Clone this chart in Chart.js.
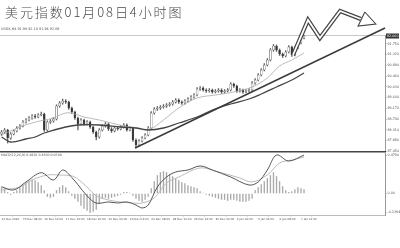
<!DOCTYPE html>
<html>
<head>
<meta charset="utf-8">
<script src="https://cdn.jsdelivr.net/npm/chart.js@4.4.0/dist/chart.umd.min.js"></script>
<style>
  html, body { margin: 0; padding: 0; background: #fff; }
  body { width: 400px; height: 248px; position: relative; overflow: hidden; font-family: "DejaVu Sans", sans-serif; }
  canvas { position: absolute; left: 0; }
  #priceChart { top: 0; }
  #macdChart { top: 146px; }
  .txt { position: absolute; white-space: nowrap; color: #555; z-index: 2; }
  #title { left: 5px; top: 4px; font-family: "Noto Sans CJK SC", sans-serif; font-weight: 300; font-size: 13px; line-height: 16px; letter-spacing: 1.9px; color: #4a4a4a; }
  #legend { left: 1px; top: 27px; font-size: 3.4px; line-height: 4px; }
  #macdLegend { left: 1px; top: 153px; font-size: 3.2px; line-height: 4px; }
</style>
</head>
<body>
<div id="title" class="txt">美元指数01月08日4小时图</div>
<div id="legend" class="txt"></div>
<div id="macdLegend" class="txt"></div>
<canvas id="priceChart" width="400" height="155"></canvas>
<canvas id="macdChart" width="400" height="102"></canvas>
<script>
// H4 candles, one row of ten per line
const opens = [
  88.14, 88.22, 88.30, 87.98, 88.14, 88.26, 88.38, 88.46, 88.62, 88.70,
  88.78, 88.86, 88.82, 88.90, 88.94, 88.30, 88.62, 88.66, 88.74, 89.26,
  89.38, 89.46, 89.42, 89.18, 89.02, 88.78, 88.54, 88.70, 88.54, 88.62,
  88.42, 88.22, 88.02, 88.30, 88.46, 88.54, 88.34, 88.26, 88.38, 88.34,
  88.42, 88.50, 88.30, 88.38, 87.90, 87.70, 87.86, 87.98, 88.10, 88.38,
  88.98, 89.14, 89.18, 89.22, 89.26, 89.30, 89.34, 89.42, 89.50, 89.42,
  89.38, 89.46, 89.54, 89.62, 89.70, 89.94, 89.98, 89.90, 89.86, 89.90,
  89.82, 89.86, 89.90, 89.82, 89.86, 89.90, 90.14, 90.06, 89.86, 89.90,
  89.82, 89.86, 89.90, 90.18, 90.30, 90.50, 90.70, 90.90, 91.10, 91.50,
  91.66, 91.50, 91.34, 91.26, 91.42, 91.62, 91.30, 91.58, 91.78, 91.98
];
const highs = [
  88.28, 88.36, 88.33, 88.20, 88.31, 88.44, 88.52, 88.68, 88.76, 88.84,
  88.92, 88.93, 88.96, 89.02, 88.98, 88.67, 88.72, 88.80, 89.31, 89.44,
  89.54, 89.52, 89.46, 89.22, 89.06, 88.82, 88.76, 88.74, 88.68, 88.66,
  88.46, 88.26, 88.36, 88.52, 88.60, 88.58, 88.40, 88.44, 88.44, 88.48,
  88.56, 88.55, 88.44, 88.42, 87.95, 87.92, 88.04, 88.16, 88.44, 89.04,
  89.20, 89.24, 89.28, 89.32, 89.36, 89.40, 89.48, 89.56, 89.55, 89.47,
  89.52, 89.60, 89.68, 89.76, 90.00, 90.04, 90.03, 89.95, 89.96, 89.94,
  89.92, 89.96, 89.95, 89.92, 89.96, 90.20, 90.18, 90.10, 89.96, 89.94,
  89.92, 89.96, 90.24, 90.36, 90.56, 90.76, 90.96, 91.16, 91.56, 91.72,
  91.70, 91.54, 91.38, 91.48, 91.68, 91.66, 91.64, 91.84, 92.04, 92.10
];
const lows = [
  88.08, 88.16, 87.78, 87.92, 88.10, 88.22, 88.33, 88.42, 88.57, 88.66,
  88.73, 88.76, 88.78, 88.86, 88.24, 88.26, 88.56, 88.61, 88.70, 89.21,
  89.33, 89.36, 89.12, 88.96, 88.72, 88.30, 88.50, 88.48, 88.49, 88.36,
  88.16, 87.90, 87.97, 88.26, 88.41, 88.28, 88.20, 88.22, 88.29, 88.30,
  88.37, 88.25, 88.26, 87.84, 87.58, 87.65, 87.82, 87.94, 88.06, 88.34,
  88.93, 89.08, 89.12, 89.17, 89.20, 89.25, 89.29, 89.37, 89.36, 89.32,
  89.33, 89.41, 89.49, 89.57, 89.66, 89.88, 89.85, 89.80, 89.81, 89.77,
  89.78, 89.81, 89.76, 89.77, 89.82, 89.86, 90.00, 89.80, 89.81, 89.76,
  89.78, 89.81, 89.86, 90.13, 90.26, 90.46, 90.66, 90.86, 91.06, 91.45,
  91.44, 91.28, 91.20, 91.22, 91.38, 91.24, 91.26, 91.54, 91.74, 91.94
];
const closes = [
  88.22, 88.30, 87.98, 88.14, 88.26, 88.38, 88.46, 88.62, 88.70, 88.78,
  88.86, 88.82, 88.90, 88.94, 88.30, 88.62, 88.66, 88.74, 89.26, 89.38,
  89.46, 89.42, 89.18, 89.02, 88.78, 88.54, 88.70, 88.54, 88.62, 88.42,
  88.22, 88.02, 88.30, 88.46, 88.54, 88.34, 88.26, 88.38, 88.34, 88.42,
  88.50, 88.30, 88.38, 87.90, 87.70, 87.86, 87.98, 88.10, 88.38, 88.98,
  89.14, 89.18, 89.22, 89.26, 89.30, 89.34, 89.42, 89.50, 89.42, 89.38,
  89.46, 89.54, 89.62, 89.70, 89.94, 89.98, 89.90, 89.86, 89.90, 89.82,
  89.86, 89.90, 89.82, 89.86, 89.90, 90.14, 90.06, 89.86, 89.90, 89.82,
  89.86, 89.90, 90.18, 90.30, 90.50, 90.70, 90.90, 91.10, 91.50, 91.66,
  91.50, 91.34, 91.26, 91.42, 91.62, 91.30, 91.58, 91.78, 91.98, 92.06
];

// moving averages (read at a few bars)
const maFastX = [0, 6, 10, 14, 17, 21, 24, 27, 32, 36, 40, 44, 48, 53, 58, 64, 70, 76, 82, 87, 91, 95, 99];
const maFastY = [88.10, 88.42, 88.58, 88.70, 88.78, 88.98, 88.94, 88.82, 88.70, 88.58, 88.46, 88.38, 88.30, 88.70, 89.18, 89.58, 89.70, 89.82, 90.02, 90.38, 90.86, 91.10, 91.38];
const maSlowX = [0, 3, 8, 11, 14, 21, 25, 32, 39, 44, 48, 53, 58, 64, 69, 75, 81, 85, 90, 95, 99];
const maSlowY = [88.02, 87.82, 87.94, 88.02, 88.18, 88.42, 88.50, 88.50, 88.42, 88.38, 88.30, 88.38, 88.58, 88.82, 89.10, 89.34, 89.54, 89.74, 90.02, 90.30, 90.58];

// hand drawn trend line and forecast arrow
const trendX = [43.7, 125.5];
const trendY = [87.58, 92.38];
const arrowX = [95.4, 100.3, 104.2, 110.8, 117.6];
const arrowY = [91.30, 92.70, 91.98, 93.06, 92.74];
const headX = [118.9, 122.5, 116.7, 118.9];
const headY = [93.02, 92.54, 92.46, 93.02];

const priceTicks = [91.75, 91.32, 90.89, 90.46, 90.03, 89.60, 89.17, 88.74, 88.31, 87.88, 87.45];

// MACD panel
const hist = [
  0.075, 0.063, 0.013, -0.013, 0.013, 0.038, 0.075, 0.113, 0.138, 0.163,
  0.175, 0.163, 0.138, 0.100, 0.038, -0.038, -0.050, -0.038, 0.038, 0.075,
  0.100, 0.075, 0.025, -0.025, -0.063, -0.100, -0.150, -0.188, -0.213, -0.239,
  -0.225, -0.200, -0.125, -0.063, -0.050, -0.063, -0.050, -0.038, -0.025, -0.013,
  0.013, 0.013, 0.006, -0.025, -0.063, -0.088, -0.100, -0.075, -0.038, 0.063,
  0.150, 0.225, 0.263, 0.275, 0.263, 0.238, 0.213, 0.188, 0.163, 0.138,
  0.125, 0.100, 0.088, 0.075, 0.063, 0.025, 0.006, -0.013, -0.025, -0.038,
  -0.050, -0.063, -0.075, -0.075, -0.088, -0.075, -0.075, -0.088, -0.100, -0.100,
  -0.100, -0.088, -0.063, 0.038, 0.075, 0.113, 0.150, 0.188, 0.225, 0.263,
  0.213, 0.150, 0.088, 0.038, 0.013, 0.025, 0.050, 0.075, 0.063, 0.050
];
const difX = [0, 4, 8, 13, 17, 20, 23, 25, 28, 31, 35, 38, 41, 44, 46, 48, 51, 54, 57, 61, 65, 69, 75, 81, 84, 87, 90, 94, 99];
const difY = [0.085, 0.044, 0.144, 0.260, 0.169, 0.294, 0.200, 0.110, -0.030, -0.120, -0.106, -0.119, -0.106, -0.144, -0.181, -0.144, 0.081, 0.206, 0.269, 0.294, 0.344, 0.294, 0.206, 0.106, 0.144, 0.294, 0.481, 0.406, 0.481];
const deaX = [0, 6, 10, 15, 19, 23, 25, 28, 31, 35, 39, 43, 46, 50, 54, 58, 65, 71, 78, 82, 87, 91, 95, 99];
const deaY = [0.044, 0.081, 0.169, 0.231, 0.231, 0.220, 0.180, 0.080, -0.030, -0.081, -0.106, -0.119, -0.119, -0.056, 0.131, 0.206, 0.319, 0.269, 0.194, 0.144, 0.231, 0.381, 0.419, 0.456];
const macdTicks = [0.479, 0, -0.2394];
const macdTickLabels = ['0.4790', '0.00', '-0.2394'];

const timeTicks = [0, 7, 14, 21, 28, 35, 42, 49, 56, 63, 70, 77, 84, 91, 98];
const timeLabels = ['14 Dec 2020', '15 Dec 08:00', '16 Dec 12:00', '17 Dec 16:00', '18 Dec 20:00',
  '22 Dec 00:00', '23 Dec 04:00', '24 Dec 08:00', '28 Dec 12:00', '29 Dec 16:00',
  '30 Dec 20:00', '4 Jan 00:00', '5 Jan 04:00', '6 Jan 08:00', '7 Jan 12:00'];

Chart.defaults.font.family = '"DejaVu Sans", sans-serif';
Chart.defaults.animation = false;

const last = closes.length - 1;
document.getElementById('legend').textContent =
  `USDX,H4  ${opens[last].toFixed(2)} ${highs[last].toFixed(2)} ${lows[last].toFixed(2)} ${closes[last].toFixed(2)}`;
document.getElementById('macdLegend').textContent =
  `MACD(12,26,9) ${difY[difY.length - 1].toFixed(4)} ${deaY[deaY.length - 1].toFixed(4)} ${hist[hist.length - 1].toFixed(4)}`;

const pts = (xs, ys) => xs.map((x, i) => ({ x: x, y: ys[i] }));
const xMin = -0.5, xMax = 125.5;

// box with the last price on the right axis
const lastPriceBox = {
    id: 'lastPriceBox',
    afterDraw(chart) {
        const y = chart.scales.y.getPixelForValue(closes[last]);
        const left = chart.chartArea.right + 1;
        const ctx = chart.ctx;
        ctx.save();
        ctx.fillStyle = '#333';
        ctx.fillRect(left, y - 2.5, 13, 5);
        ctx.fillStyle = '#fff';
        ctx.font = '3.3px "DejaVu Sans"';
        ctx.textBaseline = 'middle';
        ctx.fillText(closes[last].toFixed(3), left + 1, y);
        ctx.restore();
    }
};

new Chart(document.getElementById('priceChart'), {
    type: 'bar',
    data: {
        datasets: [
            {
                type: 'line', data: pts(headX, headY), borderColor: '#444', borderWidth: 1.1,
                backgroundColor: '#fff', fill: 'shape', pointRadius: 0, clip: false, order: 0
            },
            {
                type: 'line', data: pts(arrowX, arrowY), borderColor: '#fff', borderWidth: 1.8,
                pointRadius: 0, clip: false, borderJoinStyle: 'miter', order: 1
            },
            {
                type: 'line', data: pts(arrowX, arrowY), borderColor: '#444', borderWidth: 4.2,
                pointRadius: 0, clip: false, borderJoinStyle: 'miter', order: 2
            },
            {
                type: 'line', data: pts(trendX, trendY), borderColor: '#3a3a3a', borderWidth: 1.4,
                pointRadius: 0, clip: false, order: 3
            },
            {
                type: 'line', data: pts(maSlowX, maSlowY), borderColor: '#444', borderWidth: 1.3,
                pointRadius: 0, tension: 0.35, order: 4
            },
            {
                type: 'line', data: pts(maFastX, maFastY), borderColor: '#aaa', borderWidth: 0.8,
                pointRadius: 0, tension: 0.35, order: 5
            },
            {
                data: closes.map((c, i) => ({ x: i, y: [opens[i], c] })),
                backgroundColor: closes.map((c, i) => c >= opens[i] ? '#fff' : '#333'),
                borderColor: '#555', borderWidth: 0.5, borderSkipped: false,
                barThickness: 1.9, grouped: false, order: 6
            },
            {
                data: closes.map((c, i) => ({ x: i, y: [lows[i], highs[i]] })),
                backgroundColor: '#666', barThickness: 0.7, grouped: false, order: 7
            }
        ]
    },
    options: {
        responsive: false,
        layout: { padding: { top: 35, bottom: 3, left: 0, right: 0 } },
        plugins: { legend: { display: false }, tooltip: { enabled: false } },
        scales: {
            x: { type: 'linear', min: xMin, max: xMax, offset: false, display: false },
            xTop: {
                type: 'linear', position: 'top', min: xMin, max: xMax, offset: false,
                grid: { display: false }, ticks: { display: false },
                border: { color: '#c8c8c8', width: 1 },
                afterFit: s => { s.height = 0; }
            },
            y: {
                position: 'right', min: 87.42, max: 92.10,
                afterBuildTicks: s => { s.ticks = priceTicks.map(v => ({ value: v })); },
                afterFit: s => { s.width = 15; },
                ticks: { font: { size: 3.3 }, color: '#555', padding: 1, callback: v => Number(v).toFixed(3) },
                grid: { drawOnChartArea: false, tickLength: 1.5, color: '#999' },
                border: { color: '#999' }
            }
        }
    },
    plugins: [lastPriceBox]
});

new Chart(document.getElementById('macdChart'), {
    type: 'bar',
    data: {
        datasets: [
            {
                type: 'line', data: pts(difX, difY), borderColor: '#555', borderWidth: 1,
                pointRadius: 0, tension: 0.35, order: 1
            },
            {
                type: 'line', data: pts(deaX, deaY), borderColor: '#bbb', borderWidth: 1,
                pointRadius: 0, tension: 0.35, order: 2
            },
            {
                data: hist.map((v, i) => ({ x: i, y: v })),
                backgroundColor: '#aaa', barThickness: 0.7, grouped: false, order: 3
            }
        ]
    },
    options: {
        responsive: false,
        layout: { padding: { top: 6, bottom: 25, left: 0, right: 0 } },
        plugins: { legend: { display: false }, tooltip: { enabled: false } },
        scales: {
            x: {
                type: 'linear', position: 'bottom', min: xMin, max: xMax, offset: false,
                afterBuildTicks: s => { s.ticks = timeTicks.map(v => ({ value: v })); },
                afterFit: s => { s.height = 8; },
                ticks: {
                    font: { size: 2.8 }, color: '#555', align: 'start', padding: 1,
                    maxRotation: 0, autoSkip: false,
                    callback: (v, i) => timeLabels[i]
                },
                grid: { drawOnChartArea: false, tickLength: 1.5, color: '#bbb' },
                border: { color: '#bbb' }
            },
            xTop: {
                type: 'linear', position: 'top', min: xMin, max: xMax, offset: false,
                grid: { display: false }, ticks: { display: false },
                border: { color: '#444', width: 1.6 },
                afterFit: s => { s.height = 0; }
            },
            y: {
                position: 'right', min: -0.269, max: 0.519,
                afterBuildTicks: s => { s.ticks = macdTicks.map(v => ({ value: v })); },
                afterFit: s => { s.width = 15; },
                ticks: { font: { size: 3.3 }, color: '#555', padding: 1, callback: (v, i) => macdTickLabels[i] },
                grid: { drawOnChartArea: false, tickLength: 1.5, color: '#999' },
                border: { color: '#999' }
            }
        }
    }
});
</script>
</body>
</html>
